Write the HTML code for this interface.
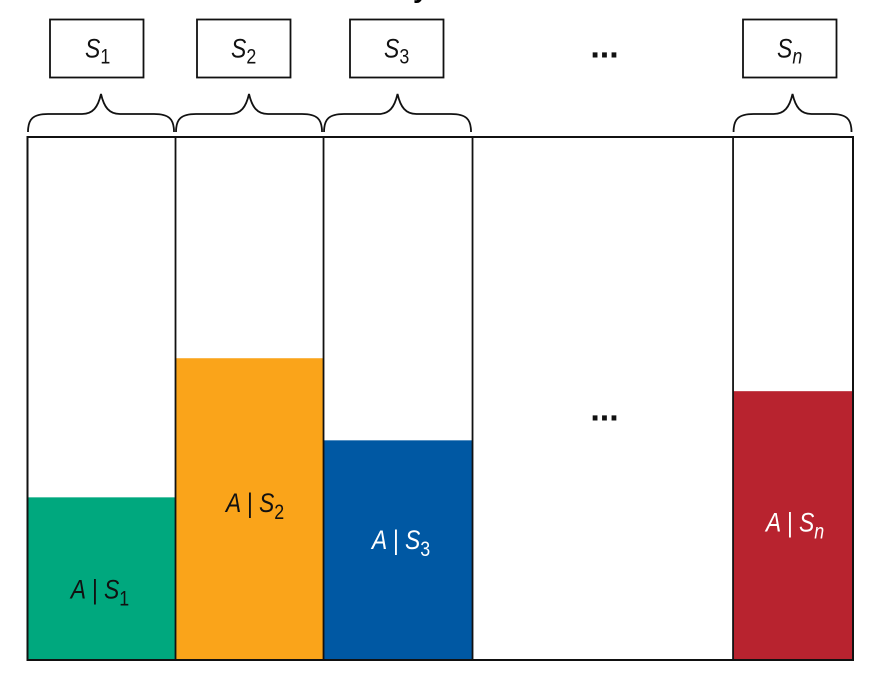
<!DOCTYPE html>
<html lang="en">
<head>
<meta charset="utf-8">
<title>Conditional probability partition diagram</title>
<style>
html,body{margin:0;padding:0;background:#fff;}
body{width:872px;height:674px;overflow:hidden;}
svg{display:block;font-family:"Liberation Sans",sans-serif;}
</style>
</head>
<body>
<svg id="chart" width="872" height="674" viewBox="0 0 872 674" xmlns="http://www.w3.org/2000/svg">
  <rect x="0" y="0" width="872" height="674" fill="#ffffff"/>
  <text x="413" y="-3" font-size="28" font-weight="bold" fill="#000">y</text>

  <g id="marks"></g>
  <g id="braces"></g>
  <g id="labels"></g>

  <g fill="#fff" stroke="#111" stroke-width="1.8">
    <rect x="50" y="19.5" width="93.5" height="58"/>
    <rect x="197" y="19.5" width="93.5" height="58"/>
    <rect x="350" y="19.5" width="93.5" height="58"/>
    <rect x="743" y="19.5" width="93.5" height="58"/>
  </g>

  <g fill="#111" font-size="27" font-style="italic">
    <text transform="translate(85 57.5) scale(.85 1)">S<tspan font-size="21" font-style="normal" dy="6">1</tspan></text>
    <text transform="translate(231 57.5) scale(.85 1)">S<tspan font-size="21" font-style="normal" dy="6">2</tspan></text>
    <text transform="translate(384 57.5) scale(.85 1)">S<tspan font-size="21" font-style="normal" dy="6">3</tspan></text>
    <text transform="translate(777 57.5) scale(.85 1)">S<tspan font-size="21" dy="6">n</tspan></text>
  </g>

  <text x="604.5" y="57.5" text-anchor="middle" font-size="34" font-weight="bold" fill="#111">...</text>
  <text x="604.5" y="420.5" text-anchor="middle" font-size="34" font-weight="bold" fill="#111">...</text>
</svg>

<script>
const categories = ['1', '2', '3', '...', 'n'];
const columnShares = [0.1793, 0.1793, 0.1805, 0.3156, 0.1453];
const conditionalValues = [0.311, 0.577, 0.42, null, 0.514];
const barColors = ['#00a87e', '#faa41a', '#0058a3', null, '#b8232f'];
const labelColors = ['#111111', '#111111', '#ffffff', null, '#ffffff'];

const NS = 'http://www.w3.org/2000/svg';
const plotLeft = 27.5, plotWidth = 825.5, plotTop = 137, plotHeight = 523;

function xScale(share) { return plotLeft + share * plotWidth; }
function yScale(value) { return plotTop + plotHeight - value * plotHeight; }

const marks = document.getElementById('marks');
const braces = document.getElementById('braces');
const labels = document.getElementById('labels');

function cumulativeShare(i) {
  let sum = 0;
  for (let k = 0; k < i; k++) sum += columnShares[k];
  return sum;
}

function bracePath(x0, x1) {
  const tip = (x0 + x1) / 2;
  const yb = 132, ym = 114, yt = 94;
  return 'M' + x0 + ' ' + yb + ' C' + x0 + ' ' + (ym + 5) + ' ' + (x0 + 5) + ' ' + ym + ' ' + (x0 + 20) + ' ' + ym +
    ' L' + (tip - 19) + ' ' + ym + ' C' + (tip - 8) + ' ' + ym + ' ' + (tip - 3) + ' ' + (ym - 7) + ' ' + tip + ' ' + yt +
    ' C' + (tip + 3) + ' ' + (ym - 7) + ' ' + (tip + 8) + ' ' + ym + ' ' + (tip + 19) + ' ' + ym +
    ' L' + (x1 - 20) + ' ' + ym + ' C' + (x1 - 5) + ' ' + ym + ' ' + x1 + ' ' + (ym + 5) + ' ' + x1 + ' ' + yb;
}

function labelNudge(i) {
  if (i === 0) return [-1.5, 20];
  if (i === 1) return [5.5, 3];
  if (i === 2) return [3, -1];
  return [2, 6];
}

categories.forEach(function (cat, i) {
  const x0 = xScale(cumulativeShare(i));
  const x1 = xScale(cumulativeShare(i + 1));
  const value = conditionalValues[i];
  if (value === null) return;

  const bar = document.createElementNS(NS, 'rect');
  
  
  bar.setAttribute('x', x0);
  bar.setAttribute('y', yScale(value));
  bar.setAttribute('width', x1 - x0);
  bar.setAttribute('height', yScale(0) - yScale(value));
  bar.setAttribute('fill', barColors[i]);
  marks.appendChild(bar);

  const brace = document.createElementNS(NS, 'path');
  
  
  brace.setAttribute('d', bracePath(x0 + 0.5, x1 - 1.5));
  brace.setAttribute('fill', 'none');
  brace.setAttribute('stroke', '#111');
  brace.setAttribute('stroke-width', '1.8');
  braces.appendChild(brace);

  const nudge = labelNudge(i);
  const cx = (x0 + x1) / 2 + nudge[0];
  const cy = (yScale(value) + yScale(0)) / 2 + nudge[1];
  const label = document.createElementNS(NS, 'text');
  
  
  label.setAttribute('transform', 'translate(' + cx + ' ' + cy + ') scale(.85 1)');
  label.setAttribute('text-anchor', 'middle');
  label.setAttribute('font-size', '27');
  label.setAttribute('font-style', 'italic');
  label.setAttribute('fill', labelColors[i]);
  label.appendChild(document.createTextNode('A | S'));
  const sub = document.createElementNS(NS, 'tspan');
  sub.setAttribute('font-size', '21');
  sub.setAttribute('dy', '7');
  if (cat !== 'n') sub.setAttribute('font-style', 'normal');
  sub.textContent = cat;
  label.appendChild(sub);
  labels.appendChild(label);
});

const frame = document.createElementNS(NS, 'rect');


frame.setAttribute('x', plotLeft);
frame.setAttribute('y', plotTop);
frame.setAttribute('width', plotWidth);
frame.setAttribute('height', plotHeight);
frame.setAttribute('fill', 'none');
frame.setAttribute('stroke', '#111');
frame.setAttribute('stroke-width', '2');
marks.appendChild(frame);

for (let i = 1; i < categories.length; i++) {
  const x = xScale(cumulativeShare(i));
  const divider = document.createElementNS(NS, 'line');
  
  
  divider.setAttribute('x1', x);
  divider.setAttribute('x2', x);
  divider.setAttribute('y1', plotTop);
  divider.setAttribute('y2', plotTop + plotHeight);
  divider.setAttribute('stroke', '#111');
  divider.setAttribute('stroke-width', '1.8');
  marks.appendChild(divider);
}
</script>
</body>
</html>
